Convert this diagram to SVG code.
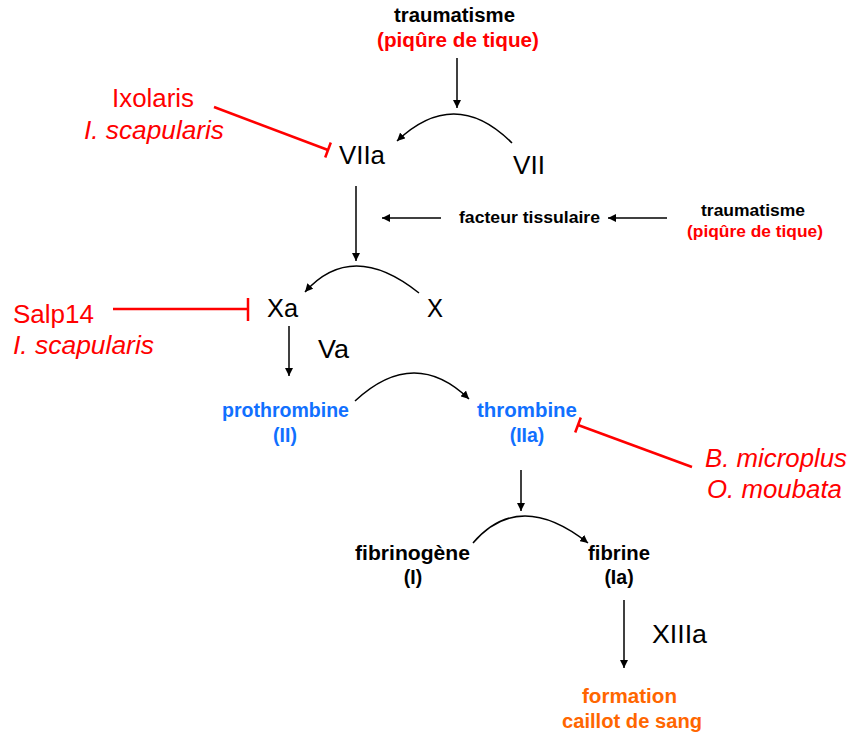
<svg xmlns="http://www.w3.org/2000/svg" width="853" height="735" viewBox="0 0 853 735">
<style>
text{font-family:"Liberation Sans",Arial,sans-serif}
.b{font-weight:bold}
.big{font-size:25.5px}
.bl{font-size:19.5px}
.bs{font-size:17px}
.red{fill:#FF0000}
.blue{fill:#1170FF}
.org{fill:#FF6600}
.k{fill:#000}
.it{font-style:italic}
.mid{text-anchor:middle}
.ln{fill:none;stroke:#000;stroke-width:1.5}
.inh{fill:none;stroke:#FF0000;stroke-width:2.5}
</style>
<defs>
<marker id="ah" viewBox="0 0 10 10" refX="10" refY="5" markerWidth="8" markerHeight="8" markerUnits="userSpaceOnUse" orient="auto">
<path d="M0,0 L10,5 L0,10 z" fill="#000"/>
</marker>
</defs>
<rect width="853" height="735" fill="#fff"/>

<g id="trauma1">
<text class="b bl k" x="394" y="22" textLength="121" lengthAdjust="spacingAndGlyphs">traumatisme</text>
<text class="b bl red" x="377" y="47" textLength="162" lengthAdjust="spacingAndGlyphs">(piqûre de tique)</text>
</g>
<g id="VIIa"><text class="big k" x="339" y="164" textLength="46" lengthAdjust="spacingAndGlyphs">VIIa</text></g>
<g id="VII"><text class="big k" x="513" y="174" textLength="32" lengthAdjust="spacingAndGlyphs">VII</text></g>
<g id="ixolaris">
<text class="big red" x="112" y="107" textLength="82" lengthAdjust="spacingAndGlyphs">Ixolaris</text>
<text class="big red it" x="84" y="139" textLength="140" lengthAdjust="spacingAndGlyphs">I. scapularis</text>
</g>
<g id="facteur"><text class="b bs k" x="459" y="223" textLength="141" lengthAdjust="spacingAndGlyphs">facteur tissulaire</text></g>
<g id="trauma2">
<text class="b bs k" x="701" y="216" textLength="104" lengthAdjust="spacingAndGlyphs">traumatisme</text>
<text class="b bs red" x="687" y="237" textLength="136" lengthAdjust="spacingAndGlyphs">(piqûre de tique)</text>
</g>
<g id="Xa"><text class="big k" x="267" y="317" textLength="31" lengthAdjust="spacingAndGlyphs">Xa</text></g>
<g id="X"><text class="big k" x="427" y="317" textLength="16" lengthAdjust="spacingAndGlyphs">X</text></g>
<g id="salp14">
<text class="big red" x="13" y="323" textLength="81" lengthAdjust="spacingAndGlyphs">Salp14</text>
<text class="big red it" x="13" y="354" textLength="141" lengthAdjust="spacingAndGlyphs">I. scapularis</text>
</g>
<g id="Va"><text class="big k" x="318" y="358" textLength="31" lengthAdjust="spacingAndGlyphs">Va</text></g>
<g id="prothrombine">
<text class="b bl blue" x="222" y="417" textLength="127" lengthAdjust="spacingAndGlyphs">prothrombine</text>
<text class="b bl blue mid" x="285" y="442">(II)</text>
</g>
<g id="thrombine">
<text class="b bl blue" x="477" y="417" textLength="100" lengthAdjust="spacingAndGlyphs">thrombine</text>
<text class="b bl blue mid" x="527" y="442">(IIa)</text>
</g>
<g id="microplus">
<text class="big red it" x="705" y="467" textLength="142" lengthAdjust="spacingAndGlyphs">B. microplus</text>
<text class="big red it" x="707" y="498" textLength="135" lengthAdjust="spacingAndGlyphs">O. moubata</text>
</g>
<g id="fibrinogene">
<text class="b bl k" x="355" y="560" textLength="115" lengthAdjust="spacingAndGlyphs">fibrinogène</text>
<text class="b bl k mid" x="413" y="584">(I)</text>
</g>
<g id="fibrine">
<text class="b bl k" x="588" y="560" textLength="62" lengthAdjust="spacingAndGlyphs">fibrine</text>
<text class="b bl k mid" x="619" y="584">(Ia)</text>
</g>
<g id="XIIIa"><text class="big k" x="652" y="643" textLength="55" lengthAdjust="spacingAndGlyphs">XIIIa</text></g>
<g id="caillot">
<text class="b bl org" x="582" y="703" textLength="95" lengthAdjust="spacingAndGlyphs">formation</text>
<text class="b bl org" x="562" y="728" textLength="140" lengthAdjust="spacingAndGlyphs">caillot de sang</text>
</g>

<g id="connectors">
<line class="ln" x1="457" y1="58" x2="457" y2="108" marker-end="url(#ah)"/>
<path class="ln" d="M512,143 Q455,86 397,141" marker-end="url(#ah)"/>
<line class="inh" x1="214" y1="107" x2="328" y2="150"/>
<line class="inh" x1="325.2" y1="157.5" x2="330.8" y2="142.5"/>
<line class="ln" x1="356" y1="186" x2="356" y2="261" marker-end="url(#ah)"/>
<line class="ln" x1="441" y1="218" x2="382" y2="218" marker-end="url(#ah)"/>
<line class="ln" x1="667" y1="218" x2="608" y2="218" marker-end="url(#ah)"/>
<path class="ln" d="M419,293 Q352,239.5 305,292" marker-end="url(#ah)"/>
<line class="inh" x1="113" y1="309" x2="248" y2="309"/>
<line class="inh" x1="248" y1="298" x2="248" y2="321"/>
<line class="ln" x1="289" y1="326" x2="289" y2="376" marker-end="url(#ah)"/>
<path class="ln" d="M355,401 Q414,346 469,399" marker-end="url(#ah)"/>
<line class="inh" x1="692" y1="467" x2="578" y2="425"/>
<line class="inh" x1="575.2" y1="432.5" x2="580.8" y2="417.5"/>
<line class="ln" x1="521" y1="470" x2="521" y2="511" marker-end="url(#ah)"/>
<path class="ln" d="M473,543 Q519.5,489 588,543" marker-end="url(#ah)"/>
<line class="ln" x1="624" y1="600" x2="624" y2="668" marker-end="url(#ah)"/>
</g>
</svg>
